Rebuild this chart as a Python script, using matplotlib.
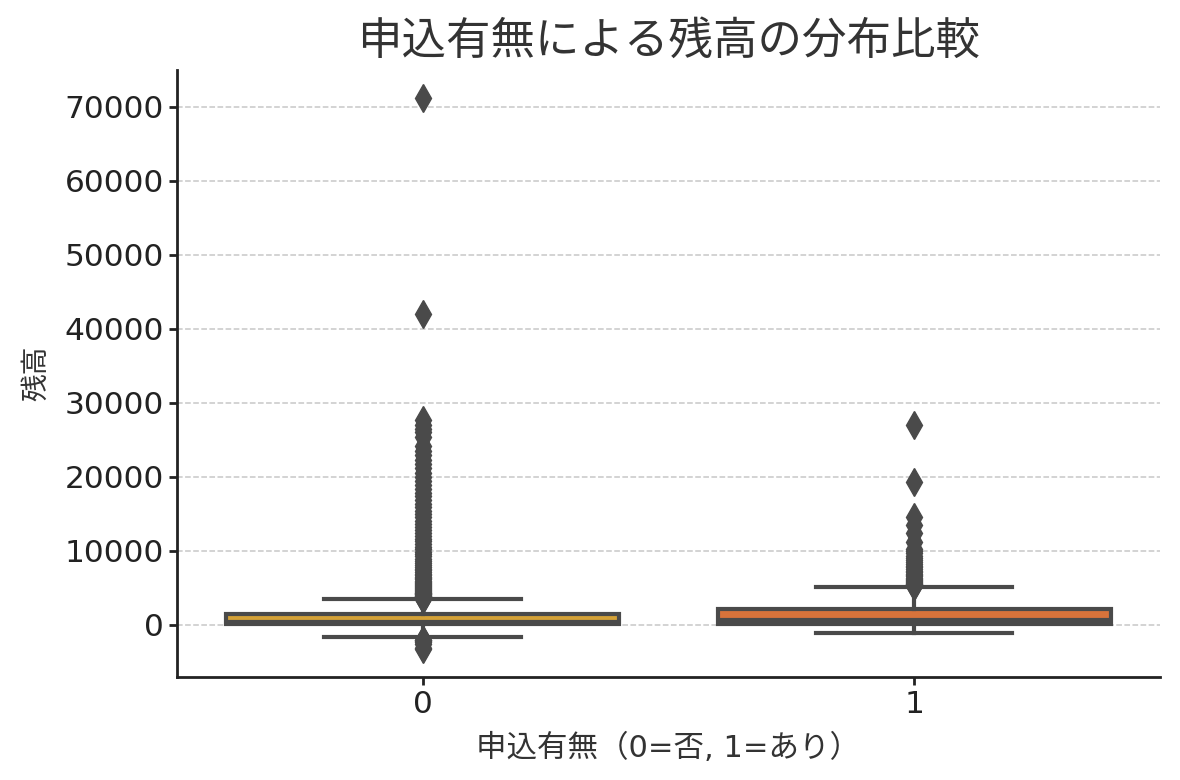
import matplotlib
matplotlib.use("Agg")
import matplotlib.pyplot as plt

# Latin glyphs from DejaVu (wider digits), kana/kanji fall back to Noto CJK JP
plt.rcParams['font.family'] = ['DejaVu Sans', 'Noto Sans CJK JP']

# 申込有無ごとの残高の箱ひげ図（要約統計＋外れ値）
groups = ["0", "1"]
q1 = [70, 171]
median = [420, 710]
q3 = [1440, 2160]
whisker_low = [-1580, -1030]
whisker_high = [3490, 5130]

outliers_0 = [-1980, -2082, -2122, -2282, -2604, -3058, -3313,
              3510, 3560, 3620, 3680, 3750, 3810, 3880, 3950, 4020, 4110,
              4190, 4280, 4370, 4460, 4580, 4690, 4810, 4930, 5060, 5190,
              5330, 5480, 5630, 5790, 5960, 6140, 6320, 6510, 6710, 6920,
              7140, 7370, 7610, 7860, 8120, 8390, 8670, 8960, 9260, 9570,
              9890, 10220, 10560, 10910, 11270, 11640, 12020, 12410, 12810,
              13220, 13640, 14070, 14510, 14960, 15420, 15890, 16370, 16860,
              17360, 17870, 18390, 18920, 19460, 20010, 20570, 21140, 21720,
              22310, 22910, 23520, 24140, 25410, 26060, 26450, 26970, 27700,
              42045, 71188]
outliers_1 = [5200, 5280, 5370, 5460, 5560, 5670, 5790, 5920, 6060, 6210,
              6370, 6540, 6720, 6910, 7110, 7320, 7540, 7770, 8010, 8260,
              8520, 8790, 9070, 9360, 9660, 9970, 10300, 11240, 12400, 13490,
              14600, 19330, 26980]
outliers = [outliers_0, outliers_1]

box_colors = ["#d5a237", "#d8733b"]
line_gray = "#4a4a4a"

stats = []
for i in range(len(groups)):
    stats.append(dict(label=groups[i], q1=q1[i], med=median[i], q3=q3[i],
                      whislo=whisker_low[i], whishi=whisker_high[i],
                      fliers=outliers[i]))

fig = plt.figure(figsize=(11.8, 7.8), dpi=100)
ax = fig.add_axes([0.15, 0.132, 0.833, 0.778])

bp = ax.bxp(stats, positions=[0, 1], widths=0.8, patch_artist=True,
            boxprops=dict(edgecolor=line_gray, linewidth=3),
            whiskerprops=dict(color=line_gray, linewidth=3),
            capprops=dict(color=line_gray, linewidth=3),
            medianprops=dict(color=line_gray, linewidth=3),
            flierprops=dict(marker="d", markerfacecolor=line_gray,
                            markeredgecolor=line_gray, markersize=14,
                            linestyle="none"),
            capwidths=0.4, zorder=3)
for patch, c in zip(bp["boxes"], box_colors):
    patch.set_facecolor(c)

ax.set_xlim(-0.5, 1.5)
ax.set_ylim(-7040, 74910)
ax.set_yticks([0, 10000, 20000, 30000, 40000, 50000, 60000, 70000])
ax.set_xticks([0, 1])
ax.set_xticklabels(groups)

ax.yaxis.grid(True, linestyle="--", color="#c8c8c8", linewidth=1.1, zorder=0)
ax.set_axisbelow(True)

for side in ["top", "right"]:
    ax.spines[side].set_visible(False)
for side in ["left", "bottom"]:
    ax.spines[side].set_linewidth(2)
    ax.spines[side].set_color("#222222")

ax.tick_params(axis="both", labelsize=22.5, colors="#222222", width=2, length=6)

ax.set_title("申込有無による残高の分布比較", fontsize=32, color="#333333", pad=12)
ax.set_xlabel("申込有無（0=否, 1=あり）", fontsize=22, color="#333333", labelpad=10)
ax.set_ylabel("残高", fontsize=20, color="#333333", labelpad=10)

fig.savefig("out.png", dpi=100)
